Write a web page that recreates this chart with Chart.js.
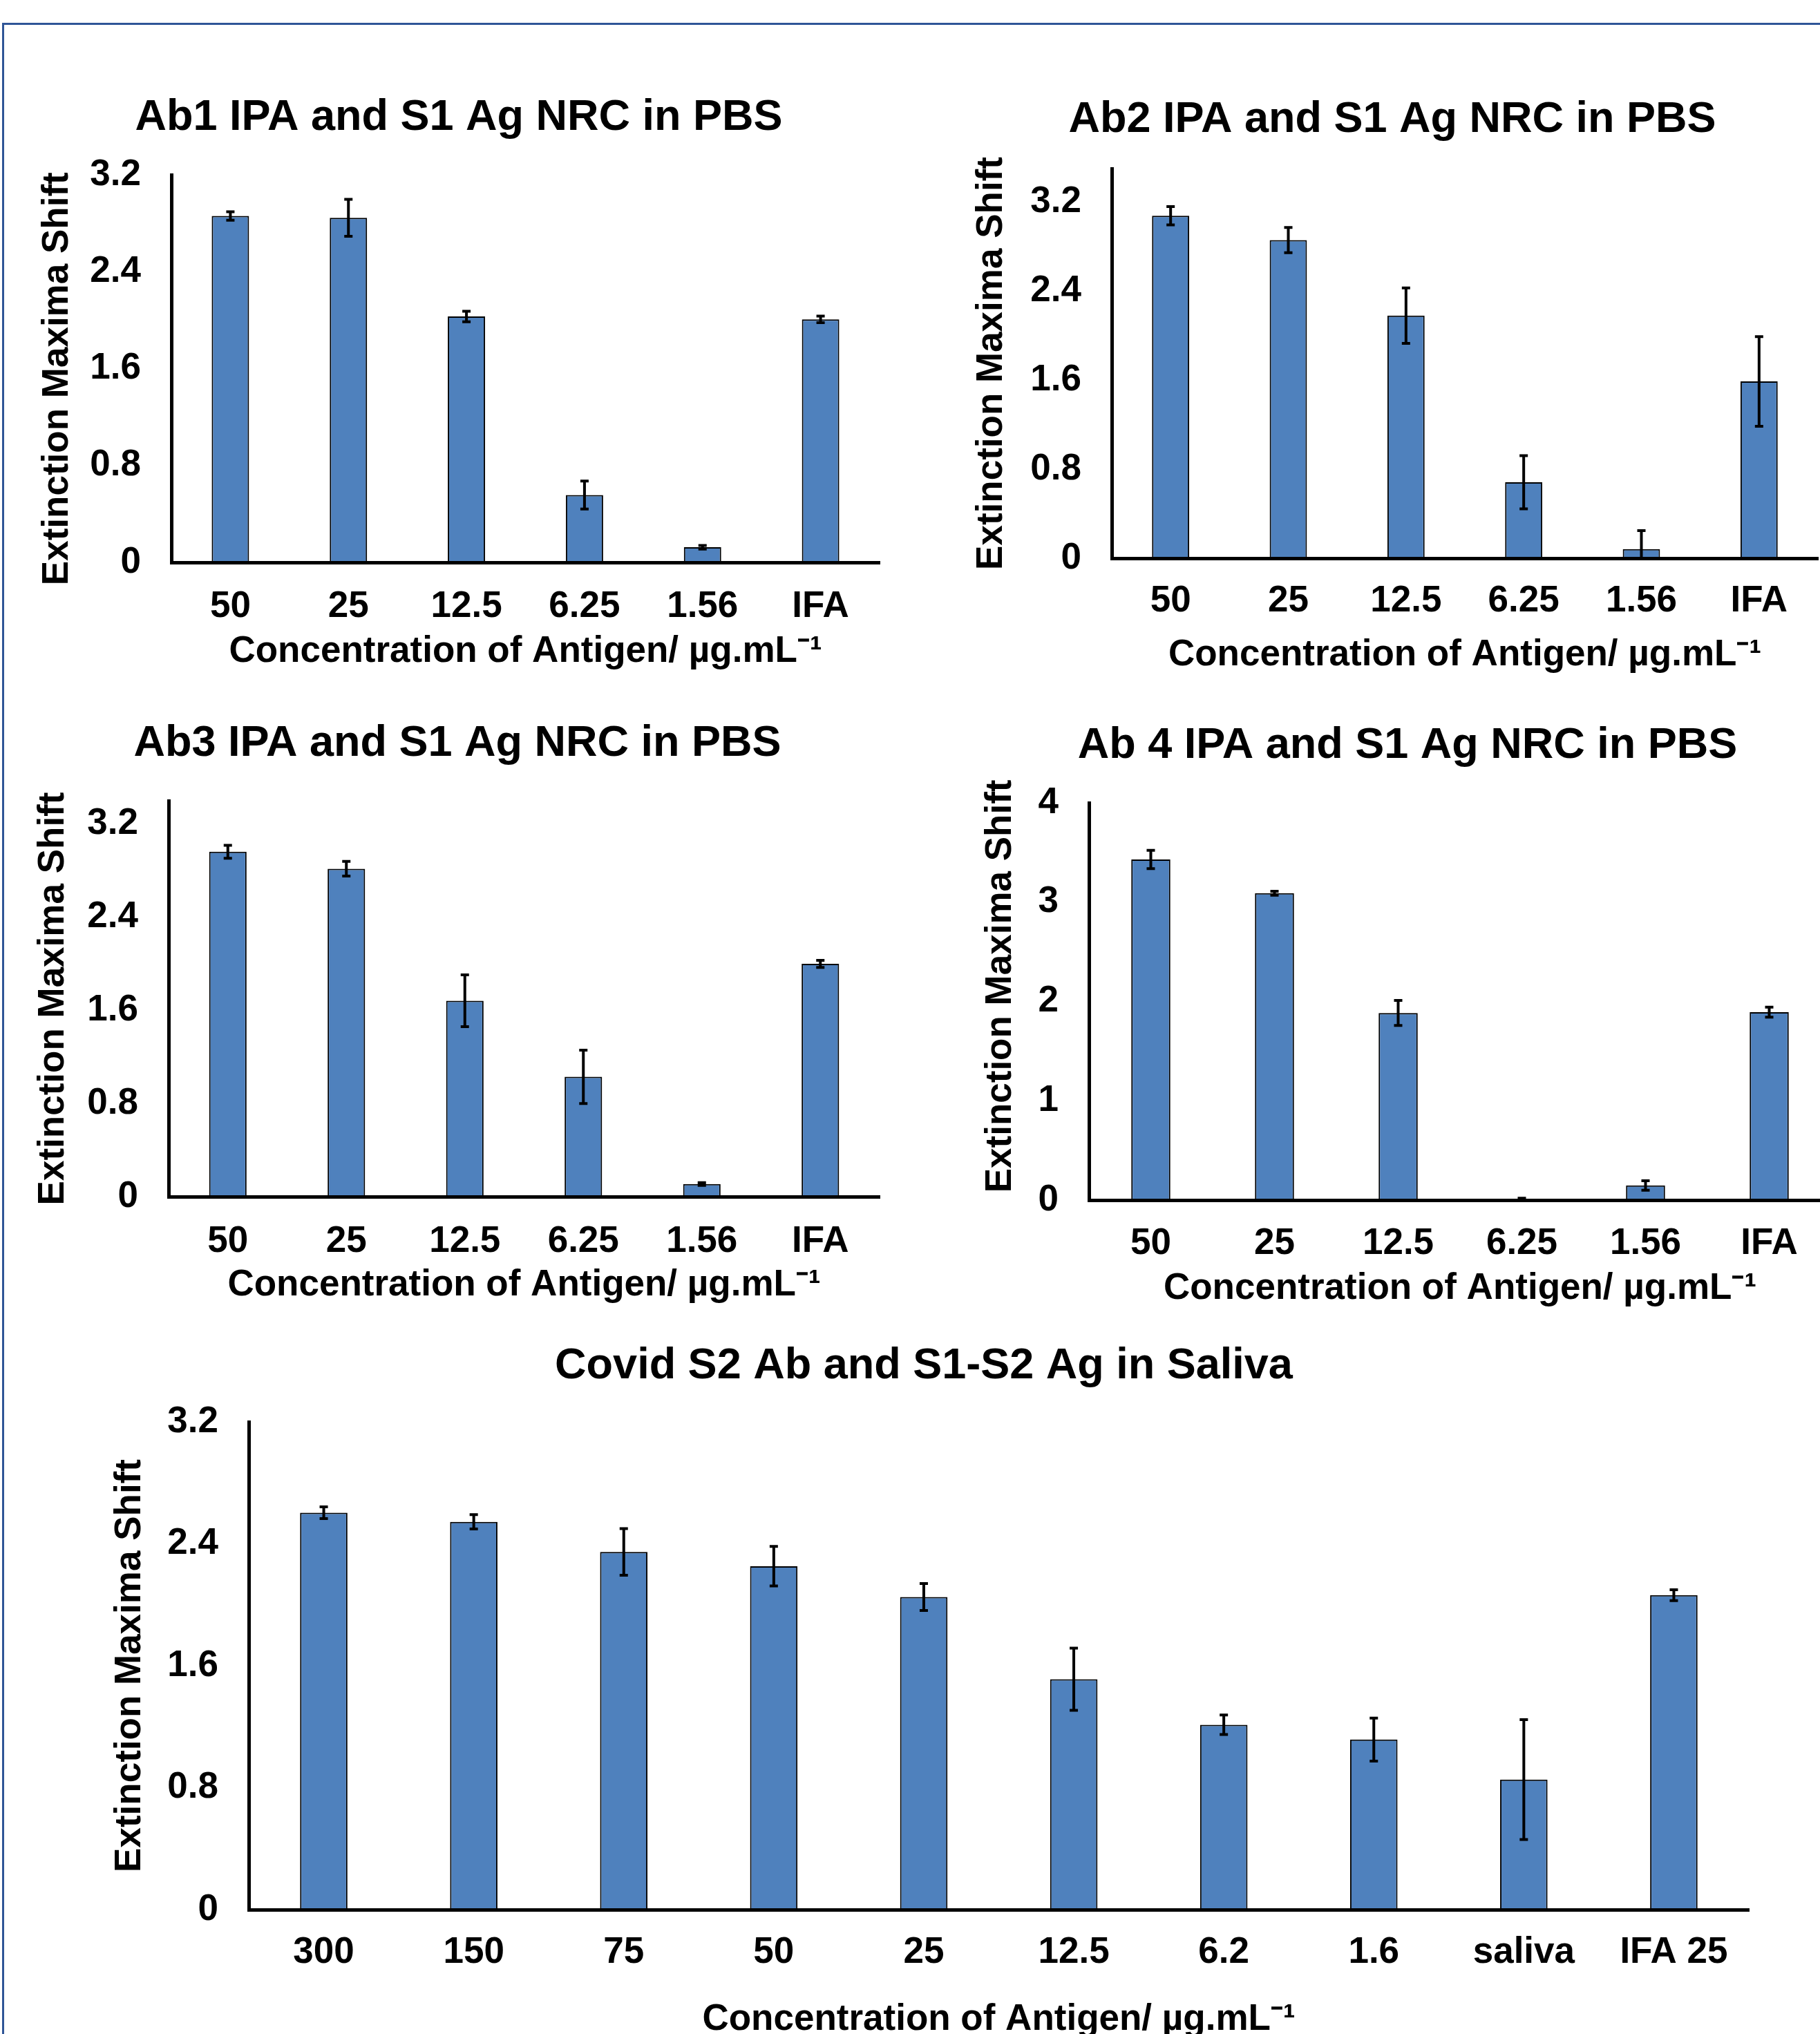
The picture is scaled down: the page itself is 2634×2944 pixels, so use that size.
<!DOCTYPE html>
<html>
<head>
<meta charset="utf-8">
<script src="https://cdn.jsdelivr.net/npm/chart.js@4.4.1/dist/chart.umd.min.js"></script>
<style>
  html, body { margin: 0; padding: 0; background: #fff; overflow: hidden; }
  body { width: 2634px; height: 2944px; position: relative; }
  .frame {
    position: absolute; left: 3px; top: 33px; right: -20px; bottom: -20px;
    border-top: 3px solid #2f5597; border-left: 3px solid #2f5597;
  }
  canvas { position: absolute; }
</style>
</head>
<body>
<div class="frame"></div>
<script>
// categories
const concLabels = ['50', '25', '12.5', '6.25', '1.56', 'IFA'];
const salivaLabels = ['300', '150', '75', '50', '25', '12.5', '6.2', '1.6', 'saliva', 'IFA 25'];

// series values and error bars
const ab1Values = [2.86, 2.845, 2.03, 0.556, 0.125, 2.006];
const ab1Errors = [0.035, 0.153, 0.043, 0.116, 0.015, 0.027];
const ab2Values = [3.076, 2.858, 2.179, 0.683, 0.082, 1.588];
const ab2Errors = [0.082, 0.113, 0.249, 0.239, 0.167, 0.402];
const ab3Values = [2.962, 2.816, 1.682, 1.029, 0.108, 1.999];
const ab3Errors = [0.056, 0.063, 0.223, 0.229, 0.012, 0.031];
const ab4Values = [3.43, 3.09, 1.884, 0.01, 0.147, 1.892];
const ab4Errors = [0.092, 0.02, 0.126, 0.01, 0.047, 0.051];
const s2Values = [2.604, 2.544, 2.347, 2.253, 2.051, 1.512, 1.213, 1.116, 0.853, 2.063];
const s2Errors = [0.038, 0.047, 0.153, 0.13, 0.088, 0.204, 0.064, 0.141, 0.393, 0.036];

// y tick labels
const ticksBy08 = [0, 0.8, 1.6, 2.4, 3.2];
const ticksBy1 = [0, 1, 2, 3, 4];

const yTitle = 'Extinction Maxima Shift';
const xTitle = 'Concentration of Antigen/ µg.mL⁻¹';

const FONT = '"Liberation Sans", Arial, Helvetica, sans-serif';
const BAR_BLUE = '#4F81BD';
const TITLE_SIZE = 63;
const LABEL_SIZE = 53;

Chart.defaults.font.family = FONT;
Chart.defaults.font.weight = 'bold';
Chart.defaults.color = '#000';

// draws the error bars from the dataset's errors through the y scale
const errorBars = {
    id: 'errorBars',
    afterDatasetsDraw(chart) {
        const { ctx, chartArea, scales } = chart;
        const ds = chart.data.datasets[0];
        const meta = chart.getDatasetMeta(0);
        const y = scales.y;
        ctx.save();
        ctx.beginPath();
        ctx.rect(chartArea.left, chartArea.top - 40, chartArea.width, chartArea.height + 40);
        ctx.clip();
        ctx.strokeStyle = '#000';
        ctx.lineWidth = 4;
        meta.data.forEach((bar, i) => {
            const v = ds.data[i];
            const e = ds.errors[i];
            const top = y.getPixelForValue(v + e);
            const bottom = y.getPixelForValue(v - e);
            ctx.beginPath();
            ctx.moveTo(bar.x, top);
            ctx.lineTo(bar.x, bottom);
            ctx.moveTo(bar.x - 6, top);
            ctx.lineTo(bar.x + 6, top);
            ctx.moveTo(bar.x - 6, bottom);
            ctx.lineTo(bar.x + 6, bottom);
            ctx.stroke();
        });
        ctx.restore();
    }
};

function makeChart(g, title, labels, values, errors, yMax, yTicks, yText) {
    const canvas = document.createElement('canvas');
    canvas.width = g.w;
    canvas.height = g.h;
    canvas.style.left = g.x + 'px';
    canvas.style.top = g.y + 'px';
    canvas.style.width = g.w + 'px';
    canvas.style.height = g.h + 'px';
    document.body.appendChild(canvas);

    const titleLh = TITLE_SIZE * 1.2;
    const labelLh = LABEL_SIZE * 1.2;
    const titlePadTop = g.titleY - g.y - titleLh / 2;
    const titlePadBottom = g.areaTop - g.y - titleLh - titlePadTop;
    const yWidth = g.areaLeft - g.x - g.padL;
    const yTitlePad = g.yTitleX - (g.x + g.padL) - labelLh / 2;
    const xHeight = g.y + g.h - g.areaBottom;
    const xTickPad = g.xTickY - g.areaBottom - labelLh / 2;
    const xTitlePad = g.y + g.h - g.xTitleY - labelLh / 2;

    return new Chart(canvas.getContext('2d'), {
        type: 'bar',
        data: {
            labels: labels,
            datasets: [{
                data: values,
                errors: errors,
                backgroundColor: BAR_BLUE,
                borderColor: '#000',
                borderWidth: 2,
                barPercentage: 0.316,
                categoryPercentage: 1
            }]
        },
        options: {
            responsive: false,
            animation: false,
            devicePixelRatio: 1,
            layout: { padding: { left: g.padL, right: g.padR, top: 0, bottom: 0 } },
            plugins: {
                legend: { display: false },
                tooltip: { enabled: false },
                title: {
                    display: true,
                    text: title,
                    color: '#000',
                    font: { size: TITLE_SIZE, weight: 'bold', lineHeight: 1.2 },
                    padding: { top: titlePadTop, bottom: titlePadBottom }
                }
            },
            scales: {
                x: {
                    grid: { display: false, drawTicks: false },
                    border: { display: true, color: '#000', width: 5, z: 1 },
                    ticks: {
                        color: '#000',
                        font: { size: LABEL_SIZE, weight: 'bold', lineHeight: 1.2 },
                        padding: xTickPad,
                        maxRotation: 0,
                        autoSkip: false
                    },
                    title: {
                        display: true,
                        text: xTitle,
                        color: '#000',
                        font: { size: LABEL_SIZE, weight: 'bold', lineHeight: 1.2 },
                        padding: { top: 0, bottom: xTitlePad }
                    },
                    afterFit: (scale) => { scale.height = xHeight; }
                },
                y: {
                    min: 0,
                    max: yMax,
                    grid: { display: false, drawTicks: false },
                    border: { display: true, color: '#000', width: 5, z: 1 },
                    ticks: {
                        color: '#000',
                        font: { size: LABEL_SIZE, weight: 'bold', lineHeight: 1.2 },
                        padding: 44
                    },
                    afterBuildTicks: (scale) => {
                        scale.ticks = yTicks.map(v => ({ value: v }));
                    },
                    title: {
                        display: true,
                        text: yText,
                        color: '#000',
                        font: { size: LABEL_SIZE, weight: 'bold', lineHeight: 1.2 },
                        padding: { top: yTitlePad, bottom: 0 }
                    },
                    afterFit: (scale) => { scale.width = yWidth; }
                }
            }
        },
        plugins: [errorBars]
    });
}

// page positions of each panel (canvas box + where its plot area sits)
const layoutAb1 = { x: 0, y: 40, w: 1290, h: 939, padL: 55, padR: 17,
    areaLeft: 248, areaTop: 253, areaBottom: 814, titleY: 171, xTickY: 878, xTitleY: 943, yTitleX: 83 };
const layoutAb2 = { x: 1300, y: 40, w: 1334, h: 944, padL: 99, padR: 3,
    areaLeft: 1609, areaTop: 244, areaBottom: 808, titleY: 174, xTickY: 870, xTitleY: 948, yTitleX: 1435 };
const layoutAb3 = { x: 0, y: 960, w: 1290, h: 936, padL: 51, padR: 17,
    areaLeft: 244, areaTop: 1159, areaBottom: 1732, titleY: 1077, xTickY: 1797, xTitleY: 1860, yTitleX: 77 };
const layoutAb4 = { x: 1300, y: 960, w: 1360, h: 941, padL: 124, padR: 10,
    areaLeft: 1576, areaTop: 1162, areaBottom: 1737, titleY: 1080, xTickY: 1800, xTitleY: 1865, yTitleX: 1448 };
const layoutS2 = { x: 0, y: 1900, w: 2634, h: 1059, padL: 143, padR: 103,
    areaLeft: 360, areaTop: 2058, areaBottom: 2764, titleY: 1978, xTickY: 2826, xTitleY: 2923, yTitleX: 188 };

// the first and fourth y titles sit a little off the plot centre in the original
makeChart(layoutAb1, 'Ab1 IPA and S1 Ag NRC in PBS', concLabels, ab1Values, ab1Errors, 3.2, ticksBy08, yTitle + '  ');
makeChart(layoutAb2, 'Ab2 IPA and S1 Ag NRC in PBS', concLabels, ab2Values, ab2Errors, 3.5, ticksBy08, yTitle);
makeChart(layoutAb3, 'Ab3 IPA and S1 Ag NRC in PBS', concLabels, ab3Values, ab3Errors, 3.4, ticksBy08, yTitle);
makeChart(layoutAb4, 'Ab 4 IPA and S1 Ag NRC in PBS', concLabels, ab4Values, ab4Errors, 4, ticksBy1, '   ' + yTitle);
makeChart(layoutS2, 'Covid S2 Ab and S1-S2 Ag in Saliva', salivaLabels, s2Values, s2Errors, 3.2, ticksBy08, yTitle);
</script>
</body>
</html>
